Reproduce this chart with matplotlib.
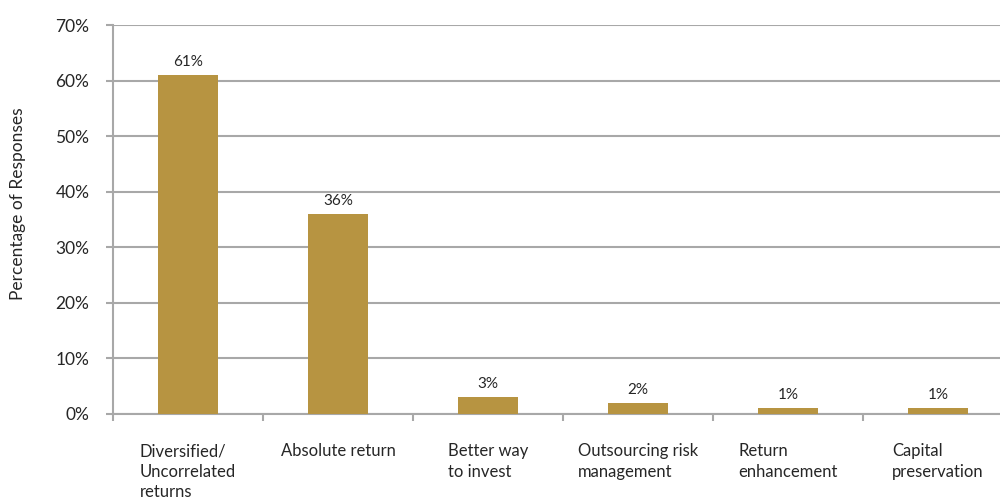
import matplotlib
matplotlib.use("Agg")
import matplotlib.pyplot as plt
import numpy as np

# Reasons for investing, share of survey responses (%)
categories = [
    "Diversified/\nUncorrelated\nreturns",
    "Absolute return",
    "Better way\nto invest",
    "Outsourcing risk\nmanagement",
    "Return\nenhancement",
    "Capital\npreservation",
]
responses = [61, 36, 3, 2, 1, 1]
y_ticks = [0, 10, 20, 30, 40, 50, 60, 70]

BAR_COLOR = "#B79441"
GRID_COLOR = "#A8A8A8"
TEXT_COLOR = "#262626"

plt.rcParams["font.family"] = ["Lato", "DejaVu Sans"]

fig = plt.figure(figsize=(10, 5), dpi=100)
# axis runs a little past the right edge of the canvas
ax = fig.add_axes([0.113, 0.172, 0.90, 0.778])

x = np.arange(len(categories))
ax.bar(x, responses, width=0.4, color=BAR_COLOR, zorder=3)

for xi, v in zip(x, responses):
    ax.text(xi, v + 1.1, f"{v}%", ha="center", va="bottom",
            fontsize=11, color=TEXT_COLOR)

ax.set_xlim(-0.5, len(categories) - 0.5)
ax.set_ylim(0, 70)
ax.set_yticks(y_ticks)
ax.set_yticklabels([f"{t}%" for t in y_ticks])
ax.yaxis.grid(True, color=GRID_COLOR, linewidth=1.5, zorder=0)

# category ticks sit between the bars, labels centred under them
ax.set_xticks(np.arange(len(categories) + 1) - 0.5)
ax.set_xticklabels([])
ax.set_xticks(x, minor=True)
ax.set_xticklabels(categories, minor=True, fontsize=12, color=TEXT_COLOR,
                   multialignment="left", va="top", linespacing=1.35)
ax.tick_params(axis="x", which="major", length=5, width=1.5, color=GRID_COLOR)
ax.tick_params(axis="x", which="minor", length=0, pad=21)
ax.tick_params(axis="y", length=5, width=1.5, color=GRID_COLOR,
               labelsize=12.5, labelcolor=TEXT_COLOR, pad=12)

for side in ("top", "right"):
    ax.spines[side].set_visible(False)
for side in ("left", "bottom"):
    ax.spines[side].set_color(GRID_COLOR)
    ax.spines[side].set_linewidth(1.5)

ax.set_ylabel("Percentage of Responses", fontsize=12.5, color=TEXT_COLOR)
ax.yaxis.set_label_coords(-0.097, 0.54)

fig.savefig("out.png", dpi=100)
